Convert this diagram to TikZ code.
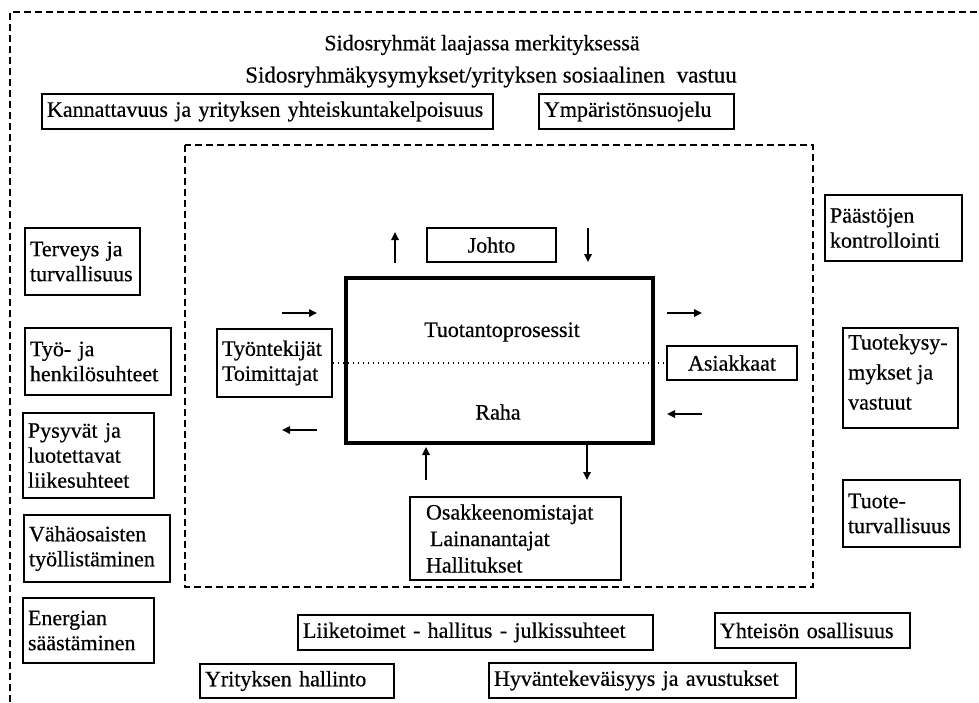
\documentclass[tikz,border=0pt]{standalone}
\usepackage{fontspec}
\setmainfont{Liberation Serif}[FakeBold=0.5]
\usetikzlibrary{arrows.meta}
\tikzset{
  txt/.style={font=\fontsize{22}{25}\selectfont, inner sep=0pt},
  box/.style={draw, line width=1.9pt, font=\fontsize{22}{25}\selectfont, inner sep=0pt, align=center},
  lbox/.style={box, align=left, inner xsep=5pt},
  frame/.style={line width=1.5pt, dash pattern=on 7pt off 4pt},
  dotline/.style={line width=1.4pt, dash pattern=on 1.5pt off 3.5pt},
  arr/.style={line width=1.7pt, -{Triangle[length=8pt,width=7.5pt]}},
}
\begin{document}
\begin{tikzpicture}[x=1pt,y=-1pt]
\useasboundingbox (0,0) rectangle (979,702);
% frames
\draw[frame] (10,702) -- (10,12) -- (979,12);
\draw[frame] (185,145) rectangle (813,587);
% titles
\node[txt] (t1) at (482,45) {Sidosryhmät laajassa merkityksessä};
\node[txt, font=\fontsize{23}{25}\selectfont] (t2) at (491,77) {Sidosryhmäkysymykset/yrityksen sosiaalinen\hspace{6pt} vastuu};
% top boxes
\node[lbox, text width=441pt, minimum height=35pt] (kan) at (267.5,111.5) {Kannattavuus ja yrityksen yhteiskuntakelpoisuus};
\node[lbox, text width=185pt, minimum height=35pt] (ymp) at (636.5,111.5) {Ympäristönsuojelu};
% left column
\node[lbox, text width=105pt, minimum height=67pt] (ter) at (82.5,261.5) {Terveys ja\\turvallisuus};
\node[lbox, text width=136pt, minimum height=67pt] (tyh) at (98,361.5) {Työ- ja\\henkilösuhteet};
\node[lbox, text width=121pt, minimum height=85pt] (pys) at (88.5,455.5) {Pysyvät ja\\luotettavat\\liikesuhteet};
\node[lbox, text width=136pt, minimum height=67pt] (vah) at (97,548.5) {Vähäosaisten\\työllistäminen};
\node[lbox, text width=121pt, minimum height=65pt] (ene) at (88.5,630.5) {Energian\\säästäminen};
% right column
\node[lbox, text width=127pt, minimum height=66pt] (paa) at (893.5,228) {Päästöjen\\kontrollointi};
\node[lbox, text width=105pt, minimum height=100pt] (tkm) at (900.5,378) {};
\node[txt, align=left, font=\fontsize{22}{30}\selectfont, anchor=west] (tkmt) at (848,372) {Tuotekysy-\\mykset ja\\vastuut};
\node[lbox, text width=107pt, minimum height=67pt] (tut) at (901.5,513.5) {Tuote-\\turvallisuus};
% centre
\node[box, minimum width=129pt, minimum height=34pt] (joh) at (491.5,245) {Johto};
\node[lbox, text width=105pt, minimum height=68pt] (tyo) at (274.5,363) {Työntekijät\\Toimittajat};
\node[box, minimum width=130pt, minimum height=34pt] (asi) at (732,363) {Asiakkaat};
\draw[dotline] (tyo.east) -- (asi.west);
\node[draw, line width=4pt, minimum width=307pt, minimum height=165pt, inner sep=0pt] (tuo) at (499.5,360.5) {};
\node[txt] (tp) at (502,332) {Tuotantoprosessit};
\node[txt] (raha) at (498,412) {Raha};
\node[lbox, inner xsep=16pt, text width=179pt, minimum height=83pt, font=\fontsize{22}{26.5}\selectfont] (osa) at (515.5,538.5) {Osakkeenomistajat\\\hspace*{4pt}Lainanantajat\\Hallitukset};
% bottom boxes
\node[lbox, text width=345pt, minimum height=35pt] (lii) at (475.5,632.5) {Liiketoimet - hallitus - julkissuhteet};
\node[lbox, text width=185pt, minimum height=35pt] (yht) at (812.5,630.5) {Yhteisön osallisuus};
\node[lbox, text width=184pt, minimum height=34pt] (yri) at (297,681) {Yrityksen hallinto};
\node[lbox, text width=297pt, minimum height=35pt] (hyv) at (642.5,680.5) {Hyväntekeväisyys ja avustukset};
% arrows
\coordinate (a1s) at (395,263); \coordinate (a1e) at (395,232);
\coordinate (a2s) at (588,228); \coordinate (a2e) at (588,262);
\coordinate (a3s) at (282,313); \coordinate (a3e) at (317,313);
\coordinate (a4s) at (317,430); \coordinate (a4e) at (282,430);
\coordinate (a5s) at (667,313); \coordinate (a5e) at (702,313);
\coordinate (a6s) at (702,414); \coordinate (a6e) at (667,414);
\coordinate (a7s) at (426,480); \coordinate (a7e) at (426,447);
\coordinate (a8s) at (587,445); \coordinate (a8e) at (587,480);
\draw[arr] (a1s) -- (a1e);
\draw[arr] (a2s) -- (a2e);
\draw[arr] (a3s) -- (a3e);
\draw[arr] (a4s) -- (a4e);
\draw[arr] (a5s) -- (a5e);
\draw[arr] (a6s) -- (a6e);
\draw[arr] (a7s) -- (a7e);
\draw[arr] (a8s) -- (a8e);
\end{tikzpicture}
\end{document}
